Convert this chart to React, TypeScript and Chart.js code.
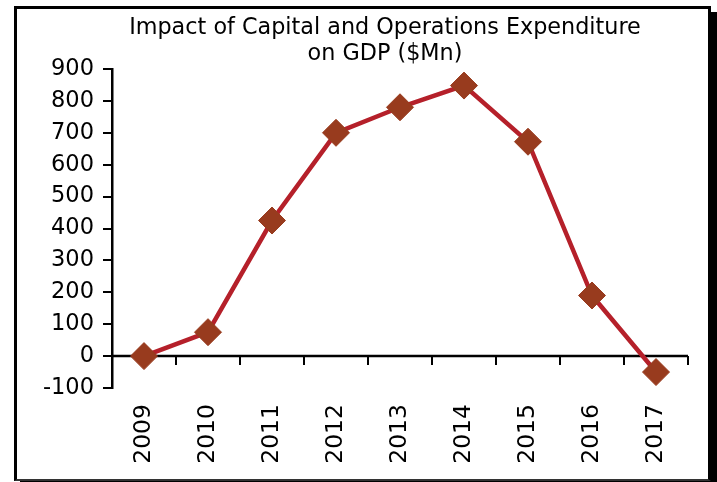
import React, { useEffect, useRef } from "react";
import { Chart, registerables } from "chart.js";

Chart.register(...registerables);

const years: string[] = ["2009", "2010", "2011", "2012", "2013", "2014", "2015", "2016", "2017"];
const gdpImpact: number[] = [0, 75, 425, 700, 780, 848, 672, 190, -50];
const titleLines: string[] = ["Impact of Capital and Operations Expenditure", "on GDP ($Mn)"];
const yMin = -100;
const yMax = 900;
const yStep = 100;

const FONT = "'DejaVu Sans', Verdana, sans-serif";

const zeroAxisPlugin = {
  id: "zeroAxis",
  beforeDatasetsDraw(chart: any) {
    const { ctx, chartArea, scales } = chart;
    const xs = scales.x;
    const ys = scales.y;
    const y0 = ys.getPixelForValue(0);
    ctx.save();
    ctx.strokeStyle = "#000";
    ctx.lineWidth = 2.5;
    ctx.beginPath();
    ctx.moveTo(chartArea.left, y0);
    ctx.lineTo(chartArea.right, y0);
    ctx.stroke();
    const n = years.length;
    const step = (chartArea.right - chartArea.left) / n;
    ctx.lineWidth = 2;
    ctx.beginPath();
    for (let i = 1; i <= n; i++) {
      const x = Math.round(xs.getPixelForValue(i - 1) + step / 2);
      ctx.moveTo(x, y0);
      ctx.lineTo(x, y0 + 9);
    }
    ctx.stroke();
    ctx.restore();
  },
};

const titlePlugin = {
  id: "customTitle",
  afterDraw(chart: any) {
    const { ctx, chartArea } = chart;
    const cx = (chartArea.left + chartArea.right) / 2 - 15;
    ctx.save();
    ctx.fillStyle = "#000";
    ctx.font = `22.3px ${FONT}`;
    ctx.textAlign = "center";
    ctx.textBaseline = "alphabetic";
    titleLines.forEach((t, i) => {
      ctx.fillText(t, cx, 34 + i * 25.5);
    });
    ctx.restore();
  },
};

export default function App() {
  const ref = useRef<HTMLCanvasElement | null>(null);

  useEffect(() => {
    if (!ref.current) return;
    const chart = new Chart(ref.current, {
      type: "line",
      data: {
        labels: years,
        datasets: [
          {
            data: gdpImpact,
            borderColor: "#B5202A",
            borderWidth: 4.5,
            backgroundColor: "#983B1E",
            pointBackgroundColor: "#983B1E",
            pointBorderColor: "#983B1E",
            pointBorderWidth: 1,
            pointStyle: "rectRot",
            pointRadius: 13.5,
            tension: 0,
          },
        ],
      },
      options: {
        animation: false,
        responsive: false,
        maintainAspectRatio: false,
        layout: { padding: { left: 0, right: 29, top: 69, bottom: 0 } },
        plugins: {
          legend: { display: false },
          title: { display: false },
          tooltip: { enabled: false },
        },
        scales: {
          x: {
            offset: true,
            grid: { display: false, drawTicks: false },
            border: { display: false },
            ticks: {
              color: "#000",
              font: { family: FONT, size: 23.5 },
              minRotation: 90,
              maxRotation: 90,
              padding: 16,
              autoSkip: false,
            },
            afterFit: (s: any) => {
              s.height = 94;
            },
          },
          y: {
            min: yMin,
            max: yMax,
            grid: {
              drawOnChartArea: false,
              drawTicks: true,
              tickLength: 9,
              color: "#000",
              lineWidth: 2,
            },
            border: { display: true, color: "#000", width: 2.5 },
            ticks: {
              stepSize: yStep,
              color: "#000",
              font: { family: FONT, size: 22.5 },
              padding: 9,
            },
            afterFit: (s: any) => {
              s.width = 112;
            },
          },
        },
      },
      plugins: [zeroAxisPlugin, titlePlugin],
    });
    return () => chart.destroy();
  }, []);

  return (
    <div style={{ position: "absolute", left: 0, top: 0, width: 717, height: 482, background: "#fff" }}>
      <canvas ref={ref} width={717} height={482} style={{ position: "absolute", left: 0, top: 0 }} />
      <div
        style={{
          position: "absolute",
          left: 14,
          top: 6,
          width: 697,
          height: 475,
          boxSizing: "border-box",
          borderLeft: "3px solid #000",
          borderTop: "3px solid #000",
          borderRight: "3px solid #000",
          borderBottom: "2px solid #333",
          boxShadow: "6px 6px 0 #000",
          pointerEvents: "none",
        }}
      />
    </div>
  );
}
